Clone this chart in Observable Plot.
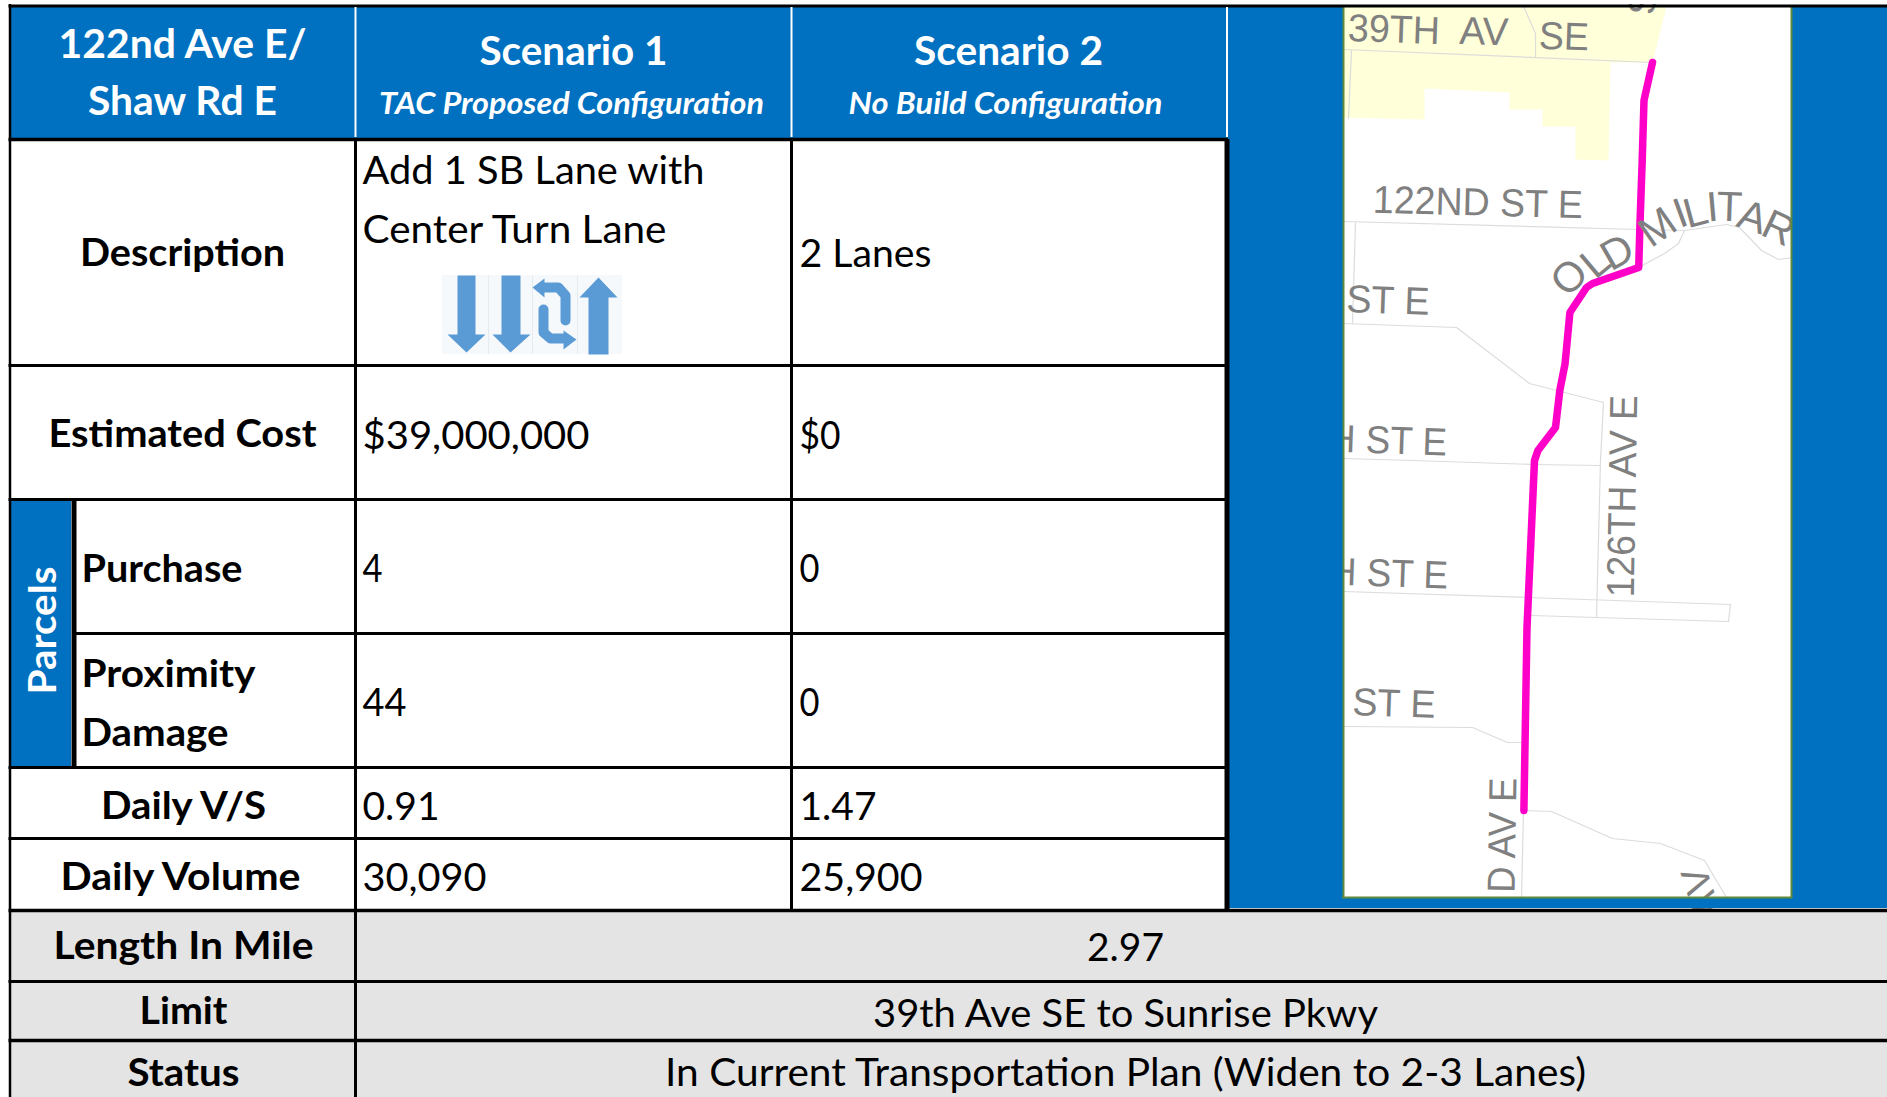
<!DOCTYPE html>
<html>
<head>
<meta charset="utf-8">
<script src="https://cdn.jsdelivr.net/npm/d3@7"></script>
<script src="https://cdn.jsdelivr.net/npm/@observablehq/plot@0.6"></script>
<style>html,body{margin:0;padding:0;background:#fff;overflow:hidden}svg{display:block}</style>
</head>
<body>
<div id="chart"></div>
<script>
// ---- Table content ----
const cornerTitle = ["122nd Ave E/", "Shaw Rd E"];
const scenarioNames = ["Scenario 1", "Scenario 2"];
const scenarioSubtitles = ["TAC Proposed Configuration", "No Build Configuration"];
const rowLabels = ["Description", "Estimated Cost", "Daily V/S", "Daily Volume"];
const parcelGroup = "Parcels";
const parcelLabels = ["Purchase", "Proximity", "Damage"];
const scenario1Values = ["$39,000,000", "4", "44", "0.91", "30,090"];
const scenario2Values = ["2 Lanes", "$0", "0", "0", "1.47", "25,900"];
const descriptionLines = ["Add 1 SB Lane with", "Center Turn Lane"];
const footerLabels = ["Length In Mile", "Limit", "Status"];
const footerValues = ["2.97", "39th Ave SE to Sunrise Pkwy", "In Current Transportation Plan (Widen to 2-3 Lanes)"];

// ---- Map content ----
const streetLabels = ["39TH", "AV", "SE", "122ND ST E", "ST E", "H ST E", "H ST E", "ST E", "126TH AV E", "D AV E"];
const curvedLabel = ["O", "L", "D", "M", "I", "L", "I", "T", "A", "R"];
const clippedLabel = ["S", "V", "A"];

// ---- Layout (scale units, one unit per reference pixel) ----
const W = 1887, H = 1097;
const footY = [910, 981, 1040];
const fullRules = [365, 499, 767, 838];
const BLUE = "#0070C0", GREY = "#E4E4E4", INK = "#000", MAPTXT = "#808080", SANS = "Lato", MAPF = "Liberation Sans";

const place = (texts, xs, ys, ws, rs) => texts.map((t, i) => ({t, x: xs[i], y: ys[i], w: ws[i], r: rs ? rs[i] : 0}));

const groups = [
  // left-column bold labels
  {rows: place(rowLabels, [182, 182, 183, 180], [265, 446, 818, 889], [205, 268, 165, 240]), o: {fontWeight: 700, fontSize: 38, fill: INK}},
  {rows: place(parcelLabels, [81, 81, 81], [581, 686, 745], [161, 174, 147]), o: {fontWeight: 700, fontSize: 38, fill: INK, textAnchor: "start"}},
  {rows: place(footerLabels, [183, 183, 183], [958, 1023, 1085], [260, 88, 112]), o: {fontWeight: 700, fontSize: 38, fill: INK}},
  // white header text
  {rows: place(cornerTitle, [182, 182], [57, 114], [248, 189]), o: {fontWeight: 700, fontSize: 40, fill: "#fff"}},
  {rows: place(scenarioNames, [573, 1008], [64, 64], [188, 189]), o: {fontWeight: 700, fontSize: 40, fill: "#fff"}},
  {rows: place(scenarioSubtitles, [571, 1005], [113, 113], [385, 314]), o: {fontWeight: 700, fontStyle: "italic", fontSize: 31, fill: "#fff"}},
  {rows: place([parcelGroup], [55], [630], [128], [-90]), o: {fontWeight: 700, fontSize: 38, fill: "#fff"}},
  // scenario values
  {rows: place(descriptionLines, [362, 362], [183, 242], [342, 304]), o: {fontSize: 38, fill: INK, textAnchor: "start"}},
  {rows: place(scenario1Values, [362, 362, 362, 362, 362], [448, 581, 715, 819, 890], [227, 20, 44, 77, 124]), o: {fontSize: 38, fill: INK, textAnchor: "start"}},
  {rows: place(scenario2Values, [799, 799, 799, 799, 799, 799], [266, 448, 581, 715, 819, 890], [132, 41, 20, 20, 77, 123]), o: {fontSize: 38, fill: INK, textAnchor: "start"}},
  {rows: place(footerValues, [1125, 1125, 1125], [960, 1026, 1085], [77, 505, 921]), o: {fontSize: 38, fill: INK}}
];

const streetRows = place(streetLabels,
  [1393, 1483, 1563, 1477, 1387, 1387, 1388, 1393, 1635, 1515],
  [42, 44, 49, 215, 313, 453, 586, 716, 496, 835],
  [92, 49, 50, 210, 83, 118, 118, 83, 202, 115],
  [2, 2, 2, 1.5, 2, 2, 2, 2, -89, -89]);

const curvedRows = place(curvedLabel,
  [1569, 1595, 1617, 1657, 1680, 1695, 1712, 1729, 1752, 1778],
  [277, 262, 252, 227, 213, 212, 207, 207, 217, 228],
  [0, 0, 0, 0, 0, 0, 0, 0, 0, 0],
  [-45, -40, -30, -35, -20, -15, -5, 2, 18, 25]);

const clippedRows = place(clippedLabel,
  [1641, 1697, 1705],
  [1, 880, 904],
  [0, 0, 0],
  [100, -108, -108]);

// Yellow urban-area polygon
const yellowArea = [[1343,6],[1666,6],[1652,62],[1610,62],[1608,160],[1575,159],[1575,126],[1542,126],[1542,109],[1509,109],[1509,92],[1424,88],[1424,119],[1343,117]].map(([x,y]) => ({x,y}));

// Thin grey road lines
const roadSegments = [
  [[1343,49],[1652,62]],
  [[1523,6],[1535,33],[1535,57]],
  [[1351,50],[1348,118]],
  [[1343,221],[1638,229],[1684,230],[1726,224],[1739,227],[1761,250],[1778,259],[1792,257]],
  [[1684,230],[1678,243],[1664,253],[1638,267]],
  [[1355,222],[1352,323]],
  [[1343,323],[1456,327],[1529,383],[1603,402],[1600,460],[1596,617]],
  [[1343,458],[1412,460],[1533,464],[1600,465]],
  [[1343,591],[1527,597],[1730,604],[1728,621],[1531,615]],
  [[1343,726],[1472,727],[1507,742],[1522,742]],
  [[1523,810],[1551,811],[1612,838],[1660,843],[1704,860],[1726,897]],
  [[1523,810],[1521,897]]
].flatMap((pts, id) => pts.map(([x,y]) => ({id, x, y})));

// Highlighted corridor
const corridor = [[1652,62],[1645,93],[1643.5,100],[1641.7,160],[1639.5,223],[1638.2,267],[1592,283],[1586,287],[1569.4,312],[1564.6,363],[1559.3,390],[1555,427],[1537.4,450],[1534,460],[1526.5,627],[1523.4,810]].map(([x,y]) => ({x,y}));

// Lane icon
const iconBox = [{x1:442,x2:622,y1:275,y2:354}];
const iconDividers = [488, 532, 577];
const iconPolys = [
  [[457,275],[475,275],[475,334],[485,334],[466,352],[447,334],[457,334]],
  [[501,275],[520,275],[520,334],[530,334],[510,352],[492,334],[501,334]],
  [[588,354],[608,354],[608,297],[617,297],[598,277],[579,297],[588,297]],
  [[544,278],[532,287],[544,297]],
  [[563,330],[576,339],[563,349]]
].flatMap((pts, id) => pts.map(([x,y]) => ({id, x, y})));
const iconBends = [
  [[565,320],[565,295],[558,287],[544,287]],
  [[543,309],[543,332],[550,338],[563,338]]
].flatMap((pts, id) => pts.map(([x,y]) => ({id, x, y})));

const txt = (rows, o) => Plot.text(rows, {x: "x", y: "y", text: "t", rotate: "r", lineAnchor: "bottom", fontFamily: SANS, ...o});
const box = (x1, x2, y1, y2, fill) => Plot.rect([{x1, x2, y1, y2}], {x1: "x1", x2: "x2", y1: "y1", y2: "y2", fill});
const hline = (y, x1, x2, strokeWidth, stroke = INK) => Plot.ruleY([y], {x1, x2, stroke, strokeWidth});
const vline = (x, y1, y2, strokeWidth, stroke = INK) => Plot.ruleX([x], {y1, y2, stroke, strokeWidth});

const plot = Plot.plot({
  width: W, height: H, margin: 0,
  x: {domain: [0, W], range: [0, W], axis: null},
  y: {domain: [0, H], range: [0, H], axis: null},
  style: {background: "#fff"},
  marks: [
    // map
    box(1343, 1792, 6, 897, "#fff"),
    Plot.line(yellowArea, {x: "x", y: "y", fill: "#FFFFD9", stroke: "none"}),
    Plot.line(roadSegments, {x: "x", y: "y", z: "id", stroke: "#DCDCDC", strokeWidth: 1.2}),
    Plot.line(corridor, {x: "x", y: "y", stroke: "#FF00C8", strokeWidth: 7.5, strokeLinejoin: "round"}),
    txt(streetRows, {fontFamily: MAPF, fontSize: 39, fill: MAPTXT}),
    txt(curvedRows, {fontFamily: MAPF, fontSize: 42, fill: MAPTXT, lineAnchor: "middle"}),
    txt(clippedRows, {fontFamily: MAPF, fontSize: 38, fill: MAPTXT, lineAnchor: "middle"}),
    // blue surround of map and header
    box(1228, 1343, 6, 908, BLUE),
    box(1792, W, 6, 908, BLUE),
    box(1228, W, 897, 908, BLUE),
    vline(1343, 6, 898, 2, "#5F8A3A"),
    vline(1791, 6, 898, 2, "#5F8A3A"),
    hline(897, 1342, 1792, 2, "#5F8A3A"),
    box(10, 1228, 6, 138, BLUE),
    // parcels band and footer
    box(11, 71, 499, 767, BLUE),
    box(10, W, 910, H, GREY),
    box(0, W, 0, 4, "#fff"),
    box(0, 8.5, 0, H, "#fff"),
    // lane icon
    Plot.rect(iconBox, {x1: "x1", x2: "x2", y1: "y1", y2: "y2", fill: "#F6F9FB"}),
    Plot.ruleX(iconDividers, {y1: 275, y2: 354, stroke: "#E6EBEF", strokeWidth: 1}),
    Plot.line(iconPolys, {x: "x", y: "y", z: "id", fill: "#5B9BD5", stroke: "none"}),
    Plot.line(iconBends, {x: "x", y: "y", z: "id", stroke: "#5B9BD5", strokeWidth: 10}),
    // table rules
    hline(5.5, 8.5, W, 3),
    hline(139, 8.5, 1228, 3.5),
    ...fullRules.map(y => hline(y, 8.5, 1228, 3)),
    hline(633, 74, 1228, 3),
    hline(footY[0], 8.5, W, 3.5),
    hline(footY[1], 8.5, W, 3),
    hline(footY[2], 8.5, W, 3.5),
    vline(9.5, 4, H, 2.5),
    vline(73.5, 499, 767, 5),
    vline(355, 139, H, 3),
    vline(791, 139, 910, 3),
    vline(1226.5, 139, 910, 5),
    vline(355, 7, 137, 2, "#fff"),
    vline(791, 7, 137, 2, "#fff"),
    vline(1226.5, 7, 137, 2, "#fff"),
    // table text
    ...groups.map(g => txt(g.rows, g.o))
  ]
});

document.getElementById("chart").appendChild(plot);

// Fit each label to the width measured in the reference.
const fitted = groups.flatMap(g => g.rows).concat(streetRows).filter(r => r.w);
d3.select(plot).selectAll("text").each(function() {
  const m = (this.getAttribute("transform") || "").match(/translate\(([-\d.]+),\s*([-\d.]+)\)/);
  if (!m) return;
  const r = fitted.find(f => f.t === this.textContent && Math.abs(+m[1] - f.x) < 1 && Math.abs(+m[2] - f.y) < 1);
  if (r) {
    this.setAttribute("textLength", r.w);
    this.setAttribute("lengthAdjust", "spacingAndGlyphs");
  }
});
</script>
</body>
</html>
